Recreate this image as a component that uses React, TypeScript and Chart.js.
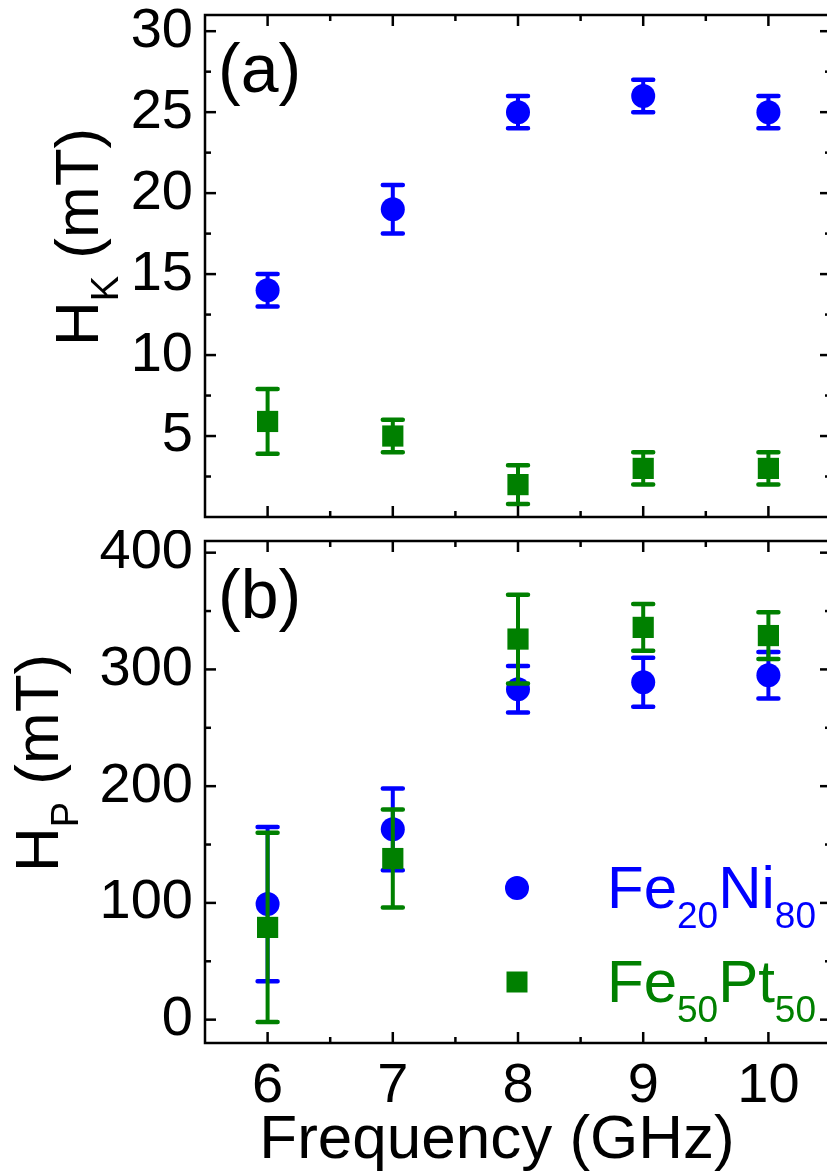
import React, { useEffect, useRef } from "react";
import { Chart, registerables } from "chart.js";

Chart.register(...registerables);

// ---------------- data ----------------
const FREQUENCY = [6, 7, 8, 9, 10];

const HK_FENI = [14, 19, 25, 26, 25];
const HK_FENI_ERR = [1, 1.5, 1, 1, 1];
const HK_FEPT = [5.9, 5, 2, 3, 3];
const HK_FEPT_ERR = [2, 1, 1.2, 1, 1];

const HP_FENI = [99, 163, 283, 289, 295];
const HP_FENI_ERR = [66, 35, 20, 21, 20];
const HP_FEPT = [79, 138, 326, 336, 329];
const HP_FEPT_ERR = [81, 42, 38, 20, 20];

const X_TICKS = [6, 7, 8, 9, 10];
const X_MINOR = [6.5, 7.5, 8.5, 9.5];
const HK_TICKS = [5, 10, 15, 20, 25, 30];
const HK_MINOR = [2.5, 7.5, 12.5, 17.5, 22.5, 27.5];
const HP_TICKS = [0, 100, 200, 300, 400];
const HP_MINOR = [50, 150, 250, 350];

// legend labels: [text, isSubscript]
const LABEL_FENI: Array<[string, boolean]> = [["Fe", false], ["20", true], ["Ni", false], ["80", true]];
const LABEL_FEPT: Array<[string, boolean]> = [["Fe", false], ["50", true], ["Pt", false], ["50", true]];

const X_TITLE = "Frequency (GHz)";

// ---------------- style ----------------
const BLUE = "#0000ff";
const GREEN = "#008000";
const FONT = "'Liberation Sans', Arial, Helvetica, sans-serif";

function drawParts(ctx: CanvasRenderingContext2D, parts: Array<[string, boolean]>, x: number, y: number, mainSize: number, subSize: number, drop: number, color: string) {
  let cx = x;
  ctx.fillStyle = color;
  for (const [t, isSub] of parts) {
    ctx.font = `${isSub ? subSize : mainSize}px ${FONT}`;
    ctx.fillText(t, cx, isSub ? y + drop : y);
    cx += ctx.measureText(t).width;
  }
}

function makeFramePlugin(yMajor: number[], yMinor: number[]) {
  return {
    id: "frameTicks",
    afterDraw(chart: any) {
      const { ctx, chartArea: a, scales } = chart;
      const xs = scales.x;
      const ys = scales.y;
      ctx.save();
      ctx.strokeStyle = "#000";
      ctx.lineWidth = 2.5;
      const line = (x1: number, y1: number, x2: number, y2: number) => {
        ctx.beginPath();
        ctx.moveTo(x1, y1);
        ctx.lineTo(x2, y2);
        ctx.stroke();
      };
      const xTick = (v: number, len: number) => {
        const px = xs.getPixelForValue(v);
        line(px, a.bottom, px, a.bottom - len);
        line(px, a.top, px, a.top + len);
      };
      const yTick = (v: number, len: number) => {
        const py = ys.getPixelForValue(v);
        line(a.left, py, a.left + len, py);
        line(a.right, py, a.right - len, py);
      };
      X_TICKS.forEach((v) => xTick(v, 11));
      X_MINOR.forEach((v) => xTick(v, 6));
      yMajor.forEach((v) => yTick(v, 11));
      yMinor.forEach((v) => yTick(v, 6));
      ctx.strokeRect(a.left, a.top, a.right - a.left, a.bottom - a.top);
      ctx.restore();
    },
  };
}

const errorBarPlugin = {
  id: "errorBars",
  beforeDatasetDraw(chart: any, args: any) {
    const ds = chart.data.datasets[args.index];
    const errs: number[] | undefined = ds.errors;
    if (!errs) return;
    const meta = chart.getDatasetMeta(args.index);
    const ys = chart.scales.y;
    const { ctx } = chart;
    ctx.save();
    ctx.strokeStyle = ds.backgroundColor;
    meta.data.forEach((pt: any, i: number) => {
      const v = ds.data[i].y;
      const e = errs[i];
      const yTop = ys.getPixelForValue(v + e);
      const yBot = ys.getPixelForValue(v - e);
      const x = pt.x;
      ctx.lineCap = "butt";
      ctx.lineWidth = 4;
      ctx.beginPath();
      ctx.moveTo(x, yTop);
      ctx.lineTo(x, yBot);
      ctx.stroke();
      ctx.lineCap = "round";
      ctx.lineWidth = 4.5;
      ctx.beginPath();
      ctx.moveTo(x - 10, yTop);
      ctx.lineTo(x + 10, yTop);
      ctx.moveTo(x - 10, yBot);
      ctx.lineTo(x + 10, yBot);
      ctx.stroke();
    });
    ctx.restore();
  },
};

function makeTextPlugin(panel: string, sub: string, titleX: number, withLegend: boolean, withXTitle: boolean) {
  return {
    id: "panelText",
    afterDraw(chart: any) {
      const { ctx, chartArea: a } = chart;
      ctx.save();
      ctx.textBaseline = "alphabetic";
      ctx.textAlign = "left";
      // panel label
      ctx.font = `68px ${FONT}`;
      ctx.fillStyle = "#000";
      ctx.fillText(panel, a.left + 13, a.top + 77);
      // y title (rotated, with subscript)
      ctx.save();
      ctx.translate(titleX, (a.top + a.bottom) / 2 + 80);
      ctx.rotate(-Math.PI / 2);
      drawParts(ctx, [["H", false], [sub, true], [" (mT)", false]], 0, 0, 62, 38, 20, "#000");
      ctx.restore();
      if (withLegend) {
        const mx = a.left + 312;
        const tx = a.left + 402;
        const rows = [
          { y: a.top + 367, color: BLUE, shape: "circle", parts: LABEL_FENI },
          { y: a.top + 461, color: GREEN, shape: "rect", parts: LABEL_FEPT },
        ];
        rows.forEach((r) => {
          ctx.fillStyle = r.color;
          const cy = r.y - 20;
          ctx.beginPath();
          if (r.shape === "circle") {
            ctx.arc(mx, cy, 12, 0, Math.PI * 2);
          } else {
            ctx.rect(mx - 10.5, cy - 10.5, 21, 21);
          }
          ctx.fill();
          drawParts(ctx, r.parts, tx, r.y, 60, 37, 20, r.color);
        });
      }
      if (withXTitle) {
        ctx.fillStyle = "#000";
        ctx.textAlign = "center";
        ctx.font = `62px ${FONT}`;
        ctx.fillText(X_TITLE, a.left + 292, a.bottom + 115);
      }
      ctx.restore();
    },
  };
}

function series(ys: number[]) {
  return FREQUENCY.map((x, i) => ({ x, y: ys[i] }));
}

function makeConfig(opts: {
  feni: number[]; feniErr: number[]; fept: number[]; feptErr: number[];
  yMin: number; yMax: number; yTicks: number[]; yMinor: number[];
  panel: string; sub: string; titleX: number; showX: boolean; padding: any; xHeight: number;
}): any {
  return {
    type: "scatter",
    data: {
      datasets: [
        {
          label: "Fe20Ni80",
          data: series(opts.feni),
          errors: opts.feniErr,
          order: 2,
          backgroundColor: BLUE,
          borderColor: BLUE,
          pointStyle: "circle",
          pointRadius: 12,
          pointBorderWidth: 0,
          showLine: false,
        },
        {
          label: "Fe50Pt50",
          data: series(opts.fept),
          errors: opts.feptErr,
          order: 1,
          backgroundColor: GREEN,
          borderColor: GREEN,
          pointStyle: "rect",
          pointRadius: 15,
          pointBorderWidth: 0,
          showLine: false,
        },
      ],
    },
    options: {
      responsive: false,
      animation: false,
      devicePixelRatio: 1,
      layout: { autoPadding: false, padding: opts.padding },
      plugins: { legend: { display: false }, tooltip: { enabled: false } },
      scales: {
        x: {
          type: "linear",
          min: 5.5,
          max: 10.5,
          afterBuildTicks: (s: any) => { s.ticks = X_TICKS.map((v) => ({ value: v })); },
          afterFit: (s: any) => { s.height = opts.xHeight; s.paddingLeft = 0; s.paddingRight = 0; },
          grid: { display: false, drawTicks: false },
          border: { display: false },
          ticks: {
            display: opts.showX,
            padding: 10,
            color: "#000",
            font: { family: FONT, size: 56 },
            maxRotation: 0,
            autoSkip: false,
          },
        },
        y: {
          type: "linear",
          min: opts.yMin,
          max: opts.yMax,
          afterBuildTicks: (s: any) => { s.ticks = opts.yTicks.map((v) => ({ value: v })); },
          afterFit: (s: any) => { s.width = 205; s.paddingTop = 0; s.paddingBottom = 0; },
          grid: { display: false, drawTicks: false },
          border: { display: false },
          ticks: {
            padding: 12,
            color: "#000",
            font: { family: FONT, size: 56 },
            autoSkip: false,
          },
        },
      },
    },
    plugins: [
      errorBarPlugin,
      makeFramePlugin(opts.yTicks, opts.yMinor),
      makeTextPlugin(opts.panel, opts.sub, opts.titleX, opts.showX, opts.showX),
    ],
  };
}

export default function App() {
  const topRef = useRef<HTMLCanvasElement>(null);
  const botRef = useRef<HTMLCanvasElement>(null);

  useEffect(() => {
    const c1 = new Chart(
      topRef.current!,
      makeConfig({
        feni: HK_FENI, feniErr: HK_FENI_ERR, fept: HK_FEPT, feptErr: HK_FEPT_ERR,
        yMin: 0, yMax: 31, yTicks: HK_TICKS, yMinor: HK_MINOR,
        panel: "(a)", sub: "K", titleX: 98, showX: false,
        padding: { left: 0, top: 15, right: 9, bottom: 13 }, xHeight: 0,
      })
    );
    const c2 = new Chart(
      botRef.current!,
      makeConfig({
        feni: HP_FENI, feniErr: HP_FENI_ERR, fept: HP_FEPT, feptErr: HP_FEPT_ERR,
        yMin: -20, yMax: 410, yTicks: HP_TICKS, yMinor: HP_MINOR,
        panel: "(b)", sub: "P", titleX: 58, showX: true,
        padding: { left: 0, top: 11, right: 9, bottom: 0 }, xHeight: 131,
      })
    );
    return () => {
      c1.destroy();
      c2.destroy();
    };
  }, []);

  return (
    <div style={{ position: "absolute", left: 0, top: 0, width: 827, height: 1174, overflow: "hidden", background: "#fff" }}>
      <canvas ref={topRef} width={840} height={530} style={{ position: "absolute", left: 0, top: 0, width: 840, height: 530 }} />
      <canvas ref={botRef} width={840} height={644} style={{ position: "absolute", left: 0, top: 530, width: 840, height: 644 }} />
    </div>
  );
}
